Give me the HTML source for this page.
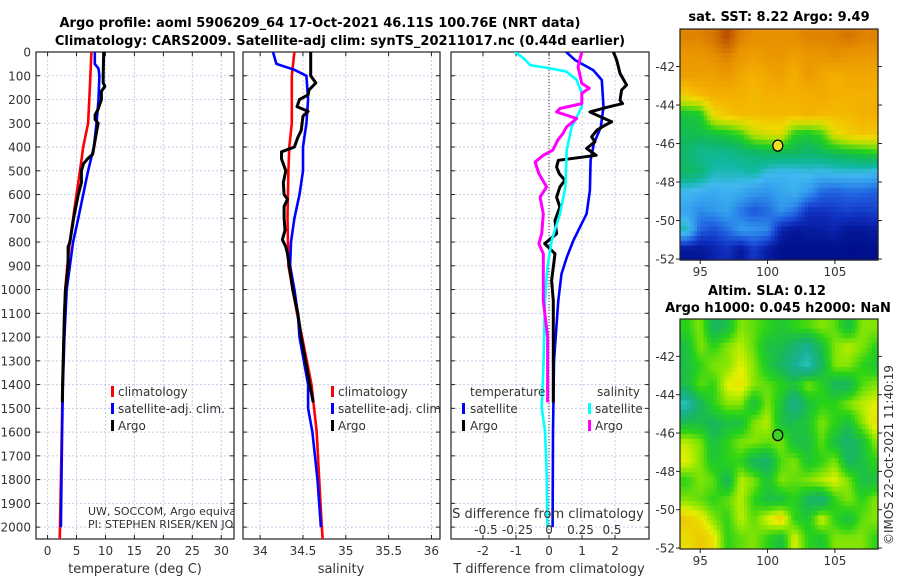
<!DOCTYPE html>
<html><head><meta charset="utf-8"><style>
html,body{margin:0;padding:0;background:#fff;}
svg{display:block;font-family:"DejaVu Sans","Liberation Sans",sans-serif;}
.tl{font-size:12px;fill:#333;}
.ttl{font-size:13px;font-weight:bold;fill:#000;}
</style></head><body>
<svg id="fig" width="900" height="580" viewBox="0 0 900 580" xmlns="http://www.w3.org/2000/svg">
<rect width="900" height="580" fill="#fff"/>
<text class="ttl" x="320" y="27" text-anchor="middle">Argo profile: aoml 5906209_64 17-Oct-2021 46.11S 100.76E (NRT data)</text>
<text class="ttl" x="340" y="45" text-anchor="middle">Climatology: CARS2009. Satellite-adj clim: synTS_20211017.nc (0.44d earlier)</text>
<text class="ttl" x="779" y="21" text-anchor="middle">sat. SST: 8.22 Argo: 9.49</text>
<text class="ttl" x="767" y="295" text-anchor="middle">Altim. SLA: 0.12</text>
<text class="ttl" x="778" y="312" text-anchor="middle">Argo h1000: 0.045 h2000: NaN</text>
<text class="tl" transform="translate(893,545) rotate(-90)">©IMOS 22-Oct-2021 11:40:19</text>
<g id="g"></g>
</svg>
<script>
// ---------- data ----------
const tempClimDepth=[0,100,200,300,400,500,600,700,800,900,1000,1200,1400,1600,1800,2000,2050];
const tempClim=[7.57,7.4,7.2,7.0,6.15,5.6,5.0,4.4,3.85,3.4,3.05,2.8,2.6,2.45,2.3,2.15,2.1];
const tempSatDepth=[0,50,70,100,200,300,400,500,600,700,800,900,1000,1200,1400,1600,1800,2000];
const tempSat=[8.15,8.15,8.8,8.95,8.8,8.45,8.0,7.0,6.15,5.3,4.4,3.85,3.3,2.9,2.65,2.5,2.4,2.3];
const tempArgoDepth=[0,100,130,145,165,200,240,265,285,300,330,400,430,450,470,500,550,600,700,800,820,900,1000,1100,1200,1300,1400,1475];
const tempArgo=[9.7,9.6,9.6,9.9,9.3,9.3,8.75,8.2,8.2,8.75,8.5,8.0,7.8,6.9,6.2,5.85,5.85,5.3,4.5,3.85,3.55,3.55,3.1,2.9,2.8,2.7,2.6,2.55];
const salClimDepth=[0,100,300,400,500,700,900,1000,1100,1200,1400,1600,1800,2000,2050];
const salClim=[34.40,34.37,34.37,34.34,34.33,34.32,34.33,34.38,34.43,34.49,34.60,34.66,34.69,34.72,34.73];
const salSatDepth=[0,50,75,100,200,300,400,500,600,700,800,900,1000,1100,1200,1400,1500,1600,1800,2000];
const salSat=[34.15,34.19,34.40,34.54,34.56,34.54,34.50,34.50,34.46,34.40,34.36,34.35,34.40,34.44,34.46,34.56,34.56,34.61,34.67,34.71];
const salArgoDepth=[0,100,130,160,180,200,230,250,270,300,330,360,400,420,450,500,550,600,620,650,700,750,790,820,850,900,1000,1100,1200,1300,1400,1475];
const salArgo=[34.59,34.59,34.65,34.57,34.56,34.46,34.43,34.56,34.50,34.49,34.48,34.44,34.40,34.25,34.25,34.30,34.27,34.28,34.32,34.28,34.28,34.29,34.26,34.30,34.32,34.34,34.38,34.44,34.48,34.53,34.58,34.62];
const dTSatDepth=[0,34,76,118,231,316,385,456,583,681,737,793,864,934,1046,1300,1600,2000];
const dTSat=[0.52,0.79,1.34,1.6,1.65,1.57,1.36,1.26,1.24,1.14,0.94,0.74,0.54,0.38,0.28,0.15,0.12,0.11];
const dTArgoDepth=[0,34,90,139,160,203,217,231,252,266,294,308,329,357,378,406,435,456,484,512,540,568,611,653,709,765,807,849,906,962,1046,1200,1475];
const dTArgo=[1.95,2.05,2.15,2.35,2.2,2.15,2.23,1.8,1.24,1.45,1.9,1.7,1.45,1.29,1.39,1.14,1.43,0.28,0.23,0.31,0.48,0.33,0.23,0.33,0.18,0.23,-0.13,0.18,0.13,0.08,0.13,0.13,0.13];
const dSSatDepth=[0,27,55,69,83,118,174,231,315,413,497,568,681,793,906,1046,1342,1497,1595,1764,2000];
const dSSat=[-0.27,-0.2,-0.15,0.01,0.14,0.22,0.26,0.26,0.18,0.14,0.135,0.13,0.087,0.021,-0.013,-0.032,-0.045,-0.058,-0.032,-0.019,-0.013];
const dSArgoDepth=[0,62,132,153,174,217,238,252,280,315,343,371,413,435,463,512,568,611,681,765,807,849,934,1046,1200,1475];
const dSArgo=[0.26,0.23,0.26,0.32,0.26,0.26,0.087,0.06,0.22,0.14,0.11,0.07,0.03,-0.045,-0.11,-0.08,-0.019,-0.071,-0.045,-0.058,-0.08,-0.045,-0.045,-0.045,-0.011,-0.011];
const depthTicks=[0,100,200,300,400,500,600,700,800,900,1000,1100,1200,1300,1400,1500,1600,1700,1800,1900,2000];
const tempTicks=[0,5,10,15,20,25,30];
const salTicks=[34,34.5,35,35.5,36];
const salTickLabels=["34","34.5","35","35.5","36"];
const dTTicks=[-2,-1,0,1,2];
const dSTicks=[-0.5,-0.25,0,0.25,0.5];
const dSTickLabels=["-0.5","-0.25","0","0.25","0.5"];
const mapLons=[94,95,96,97,98,99,100,101,102,103,104,105,106,107,108];
const mapLats=[-40.5,-41.5,-42.5,-43.5,-44.5,-45.5,-46.5,-47.5,-48.5,-49.5,-50.5,-51.5];
const sstGrid=[
[9.5,9.5,9.6,9.9,9.5,9.4,9.4,9.4,9.4,9.5,9.5,9.5,9.6,9.5,9.5],
[9.3,9.3,9.4,9.5,9.3,9.2,9.3,9.3,9.2,9.3,9.3,9.4,9.3,9.3,9.3],
[9.2,9.2,9.2,9.3,9.1,9.0,9.1,9.2,9.0,9.3,9.1,9.0,9.1,9.1,9.1],
[8.7,8.9,9.0,9.0,9.0,8.9,9.0,9.0,9.0,9.0,9.1,9.0,9.0,9.0,9.0],
[7.5,7.6,8.6,8.8,8.9,8.9,8.9,8.9,8.9,9.0,8.9,8.9,8.9,9.0,9.0],
[7.4,7.4,7.5,7.6,7.8,8.3,8.4,8.5,7.7,7.6,7.8,8.5,8.7,8.8,8.8],
[7.2,7.0,7.0,7.0,7.1,7.2,7.3,7.3,7.3,7.2,7.3,7.4,7.5,7.6,7.7],
[7.3,7.2,6.8,6.8,6.8,6.9,6.6,6.5,6.5,6.6,6.5,6.6,6.6,6.6,6.5],
[6.5,6.4,6.3,6.4,6.3,6.1,6.0,6.2,6.4,6.1,5.6,5.5,5.6,5.6,5.5],
[6.2,5.9,6.0,6.2,5.7,5.4,5.6,6.0,5.7,5.0,5.0,5.1,5.2,5.1,5.2],
[6.8,5.5,5.3,5.6,6.1,6.0,5.9,4.8,4.6,4.7,4.7,4.8,4.6,4.6,4.7],
[4.6,4.6,4.8,5.0,4.6,5.1,4.7,4.5,4.5,4.5,4.5,4.5,4.5,4.5,4.5]];
const slaGrid=[
[0,0.05,-0.08,-0.05,0.05,0.03,0,-0.03,0,0.02,0.05,0.03,-0.05,0.05,0.05],
[-0.05,0.05,0,0.05,0.08,0.03,-0.05,-0.05,-0.1,-0.15,-0.05,0.05,0.08,0.05,0],
[-0.05,0,0.05,0.05,0.1,0.05,-0.03,-0.08,-0.15,-0.2,-0.08,0.05,0.05,0,-0.03],
[-0.05,0.03,0,0.1,0.12,0.05,0.03,0,-0.03,0.05,0,-0.08,-0.08,0.02,0.05],
[-0.2,-0.08,0,0.05,0.05,-0.05,0.05,-0.03,-0.15,-0.05,0,0,0.05,0.08,0.1],
[-0.05,-0.05,-0.08,-0.05,-0.05,0.05,0.08,-0.05,-0.05,-0.03,0.05,0,-0.05,0.05,0.12],
[0.08,0.05,-0.05,0,0.05,0.05,0.03,0.05,-0.05,-0.05,0.03,-0.05,-0.1,-0.05,0.05],
[0.1,0.05,-0.03,0,0,-0.08,-0.1,0.02,0.05,-0.03,0,0.05,-0.08,-0.05,0],
[0,0.05,0.03,-0.08,0.08,0.05,-0.03,0.05,0.03,0.05,0.08,0.1,0.05,-0.05,-0.05],
[0.05,0.03,0,0.03,0.08,0,-0.05,-0.05,0,-0.08,-0.12,0,0.05,0,0.05],
[0.15,0.12,0.05,0,0.08,0.03,0.1,0.15,0,-0.03,0.1,0,-0.05,0.03,0.05],
[0.12,0.15,0.12,0,0.03,0.05,0,-0.05,0.1,0,-0.03,0.05,0.05,0.05,0]];
const argoLon=100.76, argoLat=-46.11;
const mapLonTicks=[95,100,105];
const mapLatTicks=[-42,-44,-46,-48,-50,-52];

// ---------- helpers ----------
const NS="http://www.w3.org/2000/svg";
const root=document.getElementById('g');
function mk(tag,attrs,parent){const e=document.createElementNS(NS,tag);for(const k in attrs)e.setAttribute(k,attrs[k]);(parent||root).appendChild(e);return e;}
const Y0=52,DMAX=2050,YB=539;
const yD=d=>Y0+d*(YB-Y0)/DMAX;

function panel(name,x0,x1,vmin,vmax,ticks,labels,showY){
  const sx=v=>x0+(v-vmin)*(x1-x0)/(vmax-vmin);
  const g=mk('g',{});
  
  
  const cid='clip-'+name;
  const cp=mk('clipPath',{id:cid},g);mk('rect',{x:x0,y:Y0,width:x1-x0,height:YB-Y0},cp);
  depthTicks.forEach(d=>{const l=mk('line',{x1:x0,x2:x1,y1:yD(d),y2:yD(d),stroke:'#c8cce6','stroke-width':1,'stroke-dasharray':'2,2'},g);
    
    mk('line',{x1:x0,x2:x0+4,y1:yD(d),y2:yD(d),stroke:'#222'},g);mk('line',{x1:x1-4,x2:x1,y1:yD(d),y2:yD(d),stroke:'#222'},g);
    if(showY){const t=mk('text',{x:x0-5,y:yD(d)+4.5,'text-anchor':'end',class:'tl'},g);t.textContent=d;
      }
  });
  ticks.forEach((v,i)=>{const x=sx(v);const l=mk('line',{x1:x,x2:x,y1:Y0,y2:YB,stroke:'#c8cce6','stroke-dasharray':'2,2'},g);
    
    mk('line',{x1:x,x2:x,y1:YB-4,y2:YB,stroke:'#222'},g);mk('line',{x1:x,x2:x,y1:Y0,y2:Y0+4,stroke:'#222'},g);
    const t=mk('text',{x:x,y:YB+16,'text-anchor':'middle',class:'tl'},g);t.textContent=labels?labels[i]:v;
    });
  const b=mk('rect',{x:x0,y:Y0,width:x1-x0,height:YB-Y0,fill:'none',stroke:'#222','stroke-width':1.2},g);
  
  const inner=mk('g',{'clip-path':'url(#'+cid+')'},g);
  return {sx,g,inner};
}
function line(p,sx,depths,vals,color,name,w){
  const pts=vals.map((v,i)=>sx(v).toFixed(1)+','+yD(depths[i]).toFixed(1)).join(' ');
  const e=mk('polyline',{points:pts,fill:'none',stroke:color,'stroke-width':w||2.6,'stroke-linejoin':'round'},p.inner);
  
  
}
function txt(x,y,s,parent,name,extra){const t=mk('text',Object.assign({x:x,y:y,class:'tl'},extra||{}),parent);t.textContent=s;
  return t;}
function legendMark(x,y,color,parent){const r=mk('rect',{x:x,y:y-10,width:3,height:11,fill:color},parent);
  }

// temperature panel
const pT=panel('temperature-panel',36,234,-2,32.2,tempTicks,null,true);
line(pT,pT.sx,tempClimDepth,tempClim,'#f00','temp-climatology-line');
line(pT,pT.sx,tempSatDepth,tempSat,'#00f','temp-satellite-line');
line(pT,pT.sx,tempArgoDepth,tempArgo,'#000','temp-argo-line',3);
legendMark(111,396,'#f00',pT.inner);txt(118,396,'climatology',pT.inner,'legend-climatology');
legendMark(111,413,'#00f',pT.inner);txt(118,413,'satellite-adj. clim.',pT.inner,'legend-satellite');
legendMark(111,430,'#000',pT.inner);txt(118,430,'Argo',pT.inner,'legend-argo');
txt(88,515,'UW, SOCCOM, Argo equivalent',pT.inner,'float-owner-note',{style:'font-size:11px'});
txt(88,528,'PI: STEPHEN RISER/KEN JOHNSON',pT.inner,'pi-note',{style:'font-size:11px'});
txt(135,573,'temperature (deg C)',pT.g,'x-axis-title-temperature',{'text-anchor':'middle',style:'font-size:13px'});

// salinity panel
const pS=panel('salinity-panel',243,440,33.8,36.1,salTicks,salTickLabels,false);
line(pS,pS.sx,salClimDepth,salClim,'#f00','sal-climatology-line');
line(pS,pS.sx,salSatDepth,salSat,'#00f','sal-satellite-line');
line(pS,pS.sx,salArgoDepth,salArgo,'#000','sal-argo-line',3);
legendMark(331,396,'#f00',pS.inner);txt(338,396,'climatology',pS.inner,'legend-climatology');
legendMark(331,413,'#00f',pS.inner);txt(338,413,'satellite-adj. clim.',pS.inner,'legend-satellite');
legendMark(331,430,'#000',pS.inner);txt(338,430,'Argo',pS.inner,'legend-argo');
txt(341,573,'salinity',pS.g,'x-axis-title-salinity',{'text-anchor':'middle',style:'font-size:13px'});

// difference panel
const pD=panel('difference-panel',451,649,-2.97,3.03,dTTicks,null,false);
const S_TO_T=3.82;
const sxS=v=>pD.sx(v*S_TO_T);
const zl=mk('line',{x1:pD.sx(0),x2:pD.sx(0),y1:Y0,y2:YB,stroke:'#333','stroke-dasharray':'1,2'},pD.inner);

line(pD,pD.sx,dTSatDepth,dTSat,'#00f','t-diff-satellite-line');
line(pD,pD.sx,dTArgoDepth,dTArgo,'#000','t-diff-argo-line',3);
line(pD,sxS,dSSatDepth,dSSat,'#0ff','s-diff-satellite-line');
line(pD,sxS,dSArgoDepth,dSArgo,'#f0f','s-diff-argo-line',3);
txt(470,396,'temperature',pD.inner,'legend-temperature-header');
txt(597,396,'salinity',pD.inner,'legend-salinity-header');
legendMark(462,413,'#00f',pD.inner);txt(470,413,'satellite',pD.inner,'legend-t-satellite');
legendMark(462,430,'#000',pD.inner);txt(470,430,'Argo',pD.inner,'legend-t-argo');
legendMark(588,413,'#0ff',pD.inner);txt(595,413,'satellite',pD.inner,'legend-s-satellite');
legendMark(588,430,'#f0f',pD.inner);txt(595,430,'Argo',pD.inner,'legend-s-argo');
txt(548,518,'S difference from climatology',pD.inner,'s-axis-title',{'text-anchor':'middle',style:'font-size:13px'});
dSTicks.forEach((v,i)=>{txt(sxS(v),534,dSTickLabels[i],pD.inner,'s-tick-label',{'text-anchor':'middle'});});
txt(549,573,'T difference from climatology',pD.g,'x-axis-title-t-diff',{'text-anchor':'middle',style:'font-size:13px'});

// ---------- maps ----------
function lerpColor(stops,v){
  if(v<=stops[0][0])return stops[0][1];
  for(let i=1;i<stops.length;i++){if(v<=stops[i][0]){const a=stops[i-1],b=stops[i],t=(v-a[0])/(b[0]-a[0]);
    const c=a[1].map((x,k)=>Math.round(x+(b[1][k]-x)*t));return c;}}
  return stops[stops.length-1][1];
}
const sstStops=[[4.5,[0,16,140]],[5.0,[16,48,192]],[5.5,[32,96,224]],[6.0,[48,150,236]],[6.5,[64,184,240]],[6.9,[16,184,160]],[7.3,[16,184,96]],[7.7,[32,208,32]],[8.2,[176,224,0]],[8.6,[240,216,0]],[9.0,[244,176,0]],[9.4,[232,144,0]],[10,[176,64,0]]];
const slaStops=[[-0.25,[48,224,224]],[-0.15,[24,176,150]],[-0.07,[24,184,90]],[0,[40,210,24]],[0.06,[150,232,0]],[0.1,[228,240,0]],[0.16,[240,190,0]]];
function interp(grid,lon,lat){
  let fi=(lat-mapLats[0])/(mapLats[1]-mapLats[0]), fj=(lon-mapLons[0])/(mapLons[1]-mapLons[0]);
  fi=Math.max(0,Math.min(mapLats.length-1,fi));fj=Math.max(0,Math.min(mapLons.length-1,fj));
  const i0=Math.floor(fi),j0=Math.floor(fj),i1=Math.min(i0+1,mapLats.length-1),j1=Math.min(j0+1,mapLons.length-1),ti=fi-i0,tj=fj-j0;
  return grid[i0][j0]*(1-ti)*(1-tj)+grid[i0][j1]*(1-ti)*tj+grid[i1][j0]*ti*(1-tj)+grid[i1][j1]*ti*tj;
}
function drawMap(name,x0,y0,x1,y1,grid,stops,markerColor,cellName){
  const LON0=93.5,LON1=108.2,LAT0=-40.05,LAT1=-52.05;
  const sx=l=>x0+(l-LON0)*(x1-x0)/(LON1-LON0), sy=l=>y0+(l-LAT0)*(y1-y0)/(LAT1-LAT0);
  const g=mk('g',{});
  const step=0.25;
  for(let lat=LAT0;lat>LAT1;lat-=step){for(let lon=LON0;lon<LON1;lon+=step){
    const v=interp(grid,lon+step/2,lat-step/2);const c=lerpColor(stops,v);
    const xa=sx(lon),xb=Math.min(sx(lon+step),x1),ya=sy(lat),yb=Math.min(sy(lat-step),y1);
    const r=mk('rect',{x:xa.toFixed(1),y:ya.toFixed(1),width:(xb-xa+0.6).toFixed(1),height:(yb-ya+0.6).toFixed(1),fill:'rgb('+c.join(',')+')'},g);
    
    
  }}
  const fr=mk('rect',{x:x0,y:y0,width:x1-x0,height:y1-y0,fill:'none',stroke:'#222','stroke-width':1.2},g);
  
  mapLonTicks.forEach(l=>{mk('line',{x1:sx(l),x2:sx(l),y1:y1,y2:y1+4,stroke:'#222'},g);
    txt(sx(l),y1+16,String(l),g,'lon-tick-label',{'text-anchor':'middle'});});
  mapLatTicks.forEach(l=>{mk('line',{x1:x0-4,x2:x0,y1:sy(l),y2:sy(l),stroke:'#222'},g);mk('line',{x1:x1,x2:x1+4,y1:sy(l),y2:sy(l),stroke:'#222'},g);
    txt(x0-5,sy(l)+4.5,String(l),g,'lat-tick-label',{'text-anchor':'end'});});
  const m=mk('ellipse',{cx:sx(argoLon),cy:sy(argoLat),rx:5,ry:5.5,fill:markerColor,stroke:'#000','stroke-width':1.2},g);
  
  
}
drawMap('sst-map',680,29,878,260,sstGrid,sstStops,'#f0e020','sst-cell');
drawMap('sla-map',680,319,878,549,slaGrid,slaStops,'#40d020','sla-cell');
</script>
</body></html>
